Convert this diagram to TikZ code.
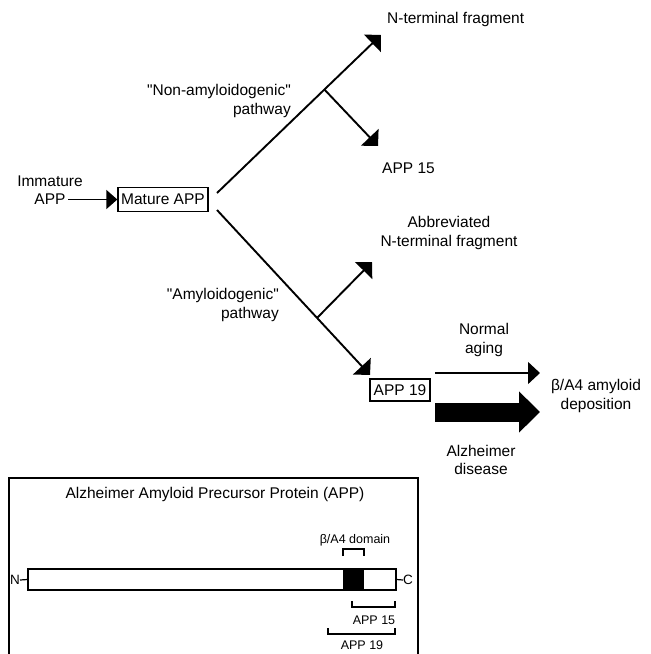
\documentclass[tikz,border=0pt]{standalone}
\usepackage{fontspec}
\setmainfont{Liberation Sans}[Ligatures=TeXOff]
\usetikzlibrary{arrows.meta}
\begin{document}
\begin{tikzpicture}[x=1pt,y=-1pt,
  lbl/.style={font=\fontsize{15.5}{18.5}\selectfont, inner sep=0pt, align=center},
  small/.style={font=\fontsize{12.5}{14}\selectfont, inner sep=0pt},
  boxnode/.style={draw, line width=1.3pt, inner sep=0pt, font=\fontsize{15.5}{18.5}\selectfont},
  mainline/.style={line width=1.9pt, -{Triangle[length=12pt,width=24pt]}},
  thinarrow/.style={line width=1.3pt, -{Triangle[length=11pt,width=19pt]}},
  bracket/.style={line width=1.2pt}]
\useasboundingbox (0,0) rectangle (651,654);

% nodes
\node[boxnode, minimum width=90pt, minimum height=24pt] (mature) at (163,199.5) {Mature APP};
\node[lbl] (immature) at (50,190) {Immature\\APP};
\node[lbl, anchor=west] (nterm) at (387,19) {N-terminal fragment};
\node[lbl, anchor=west] (app15) at (382,168) {APP 15};
\node[lbl] (abbr) at (449,233) {Abbreviated\\N-terminal fragment};
\node[lbl, align=right, anchor=east] (nonamy) at (291,101) {"Non-amyloidogenic"\\pathway};
\node[lbl, align=right, anchor=east] (amy) at (279,305) {"Amyloidogenic"\\pathway};
\node[boxnode, minimum width=60pt, minimum height=22pt] (app19) at (400,390) {APP 19};
\node[lbl] (normal) at (484,340) {Normal\\aging};
\node[lbl] (alz) at (481,460) {Alzheimer\\disease};
\node[lbl] (dep) at (596,396) {β/A4 amyloid\\deposition};

% coordinates
\coordinate (imA) at (68,199.5);
\coordinate (up0) at (217,193);
\coordinate (upT) at (381,35);
\coordinate (b1) at (324.4,89.5);
\coordinate (b1T) at (378,146);
\coordinate (lo0) at (217,210);
\coordinate (loT) at (370,375);
\coordinate (b2) at (317,318);
\coordinate (b2T) at (372,262);
\coordinate (na0) at (435,373);
\coordinate (naT) at (540,373);
\coordinate (ad0) at (435,412);
\coordinate (adT) at (540,412);

% connectors
\draw[thinarrow] (imA) -- (mature.west);
\draw[mainline] (up0) -- (upT);
\draw[mainline] (b1) -- (b1T);
\draw[mainline] (lo0) -- (loT);
\draw[mainline] (b2) -- (b2T);
\draw[thinarrow, -{Triangle[length=12pt,width=22pt]}] (na0) -- (naT);
\draw[line width=19pt, -{Triangle[length=21pt,width=40pt]}] (ad0) -- (adT);

% lower panel
\draw[line width=1.2pt] (9,660) -- (9,478) -- (418,478) -- (418,660);
\node[lbl] (title) at (215,494) {Alzheimer Amyloid Precursor Protein (APP)};
\node[draw, fill=white, line width=1.2pt, minimum width=368pt, minimum height=21pt, inner sep=0pt] (bar) at (212,579.5) {};
\fill (343,569) rectangle (364,590);
\node[small, font=\fontsize{13.5}{15}\selectfont, anchor=east] (N) at (20,580) {N};
\node[small, font=\fontsize{13.5}{15}\selectfont, anchor=west] (C) at (403,580) {C};
\draw[bracket] (N.east) -- (bar.west);
\draw[bracket] (bar.east) -- (C.west);
\node[small] (dom) at (355,540) {β/A4 domain};
\draw[bracket] (343,556) -- (343,549) -- (364,549) -- (364,556);
\node[small] (s15) at (374,620) {APP 15};
\draw[bracket] (352,601) -- (352,607) -- (395,607) -- (395,601);
\node[small] (s19) at (362,645) {APP 19};
\draw[bracket] (328,628) -- (328,634) -- (395,634) -- (395,628);
\end{tikzpicture}
\end{document}
